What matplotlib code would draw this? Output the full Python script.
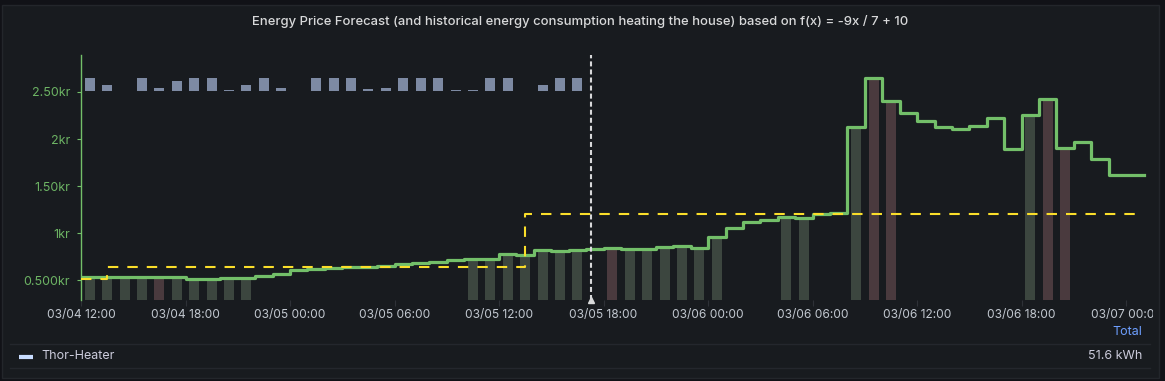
import numpy as np
import pandas as pd
import matplotlib.pyplot as plt
import matplotlib.dates as mdates
from matplotlib.lines import Line2D
from matplotlib.patches import Rectangle

plt.rcParams['font.family'] = ['Inter', 'DejaVu Sans']
plt.rcParams['lines.scale_dashes'] = False

W, H = 1165, 381

# Start of the chart (03/04 12:00), one value per hour after that
start = pd.Timestamp('2023-03-04 12:00')

# Spot price forecast (kr) per hour
price = [0.535, 0.535, 0.535, 0.535, 0.535, 0.535, 0.51, 0.51, 0.52, 0.52,
         0.543, 0.564, 0.606, 0.617, 0.63, 0.635, 0.638, 0.652, 0.667, 0.677,
         0.691, 0.709, 0.72, 0.72, 0.78, 0.766, 0.819, 0.809, 0.819, 0.83,
         0.84, 0.826, 0.826, 0.848, 0.862, 0.837, 0.954, 1.056, 1.113, 1.14,
         1.173, 1.156, 1.199, 1.216, 2.131, 2.646, 2.404, 2.273, 2.191, 2.124,
         2.11, 2.138, 2.22, 1.894, 2.255, 2.422, 1.901, 1.968, 1.787, 1.614,
         1.614]

# Hours where the heater runs, and the ones marked as expensive
heat_hours = [0, 1, 2, 3, 4, 5, 6, 7, 8, 9,
              22, 23, 24, 25, 26, 27, 28,
              30, 31, 32, 33, 34, 35, 36,
              40, 41, 44, 45, 46, 54, 55, 56]
expensive_hours = [4, 30, 45, 46, 55, 56]

# Threshold price from f(x) = -9x / 7 + 10
threshold_hours = [0, 1.5, 25.5, 60.6]
threshold = [0.514, 0.642, 1.205, 1.205]

# Thor-Heater consumption, kWh per hour (history up to now)
consumption = [2.84, 1.23, 0, 2.84, 0.65, 2.08, 2.84, 2.84, 0.29, 1.29,
               2.84, 0.65, 0, 2.84, 2.84, 2.84, 0.43, 0.65, 2.84, 2.84,
               2.84, 0.29, 0.2, 2.84, 2.84, 0, 1.29, 2.84, 2.84]

now_hour = 29.27

y_ticks = [0.5, 1, 1.5, 2, 2.5]
y_labels = ['0.500kr', '1kr', '1.50kr', '2kr', '2.50kr']

base = mdates.date2num(start.to_pydatetime())


def hx(h):
    return base + np.asarray(h, dtype=float) / 24


fig = plt.figure(figsize=(W / 100, H / 100), dpi=100, facecolor='#111217')
fig.add_artist(Rectangle((2 / W, 3 / H), 1157 / W, 373 / H, transform=fig.transFigure,
                         facecolor='#181b1f', edgecolor='#23262b', lw=1, zorder=-5))

ax_bottom, ax_top = 299.5, 55
ax = fig.add_axes([81 / W, (H - ax_bottom) / H, (1150 - 81) / W, (ax_bottom - ax_top) / H])
ax.set_facecolor('none')

# heating bars under the price line
bar_w = 0.574 / 24
colors = ['#4a3a3e' if h in expensive_hours else '#3c463f' for h in heat_hours]
ax.bar(hx(np.array(heat_hours) + 0.5), [price[h] for h in heat_hours], width=bar_w,
       color=colors, zorder=1)

# price line
ax.plot(hx(np.arange(len(price) + 1)), price + [price[-1]], drawstyle='steps-post',
        color='#73bf69', lw=2.3, zorder=3)

# threshold
ax.plot(hx(threshold_hours), threshold, drawstyle='steps-post', color='#fade2a',
        lw=1.5, ls=(0, (7.5, 6.5)), zorder=4)

ylo, yhi = 0.2926, 2.8936
ax.set_ylim(ylo, yhi)
ax.set_xlim(hx(0), hx(61.37))

# now marker
ax.axvline(hx(now_hour), color='#d8d9da', lw=1.5, ls=(0, (3.6, 2.2)), zorder=5)
ax.plot([hx(now_hour)], [ylo], marker='^', color='#d8d9da', ms=5, clip_on=False, zorder=6)

for s in ['top', 'right', 'bottom']:
    ax.spines[s].set_visible(False)
ax.spines['left'].set_color('#73bf69')
ax.spines['left'].set_linewidth(1)

ax.set_yticks(y_ticks)
ax.set_yticklabels(y_labels)
ax.tick_params(axis='y', colors='#73bf69', labelcolor='#6db464', length=3, width=0.8,
               labelsize=9, pad=5)
ax.xaxis.set_major_locator(mdates.HourLocator(byhour=[0, 6, 12, 18]))
ax.xaxis.set_major_formatter(mdates.DateFormatter('%m/%d %H:%M'))
ax.tick_params(axis='x', colors='#2e3137', labelcolor='#c2c8d0', length=4, width=0.8,
               labelsize=8.6, pad=3)

# the last time label is cut at the panel edge
clip = Rectangle((0, 0), 1153 / W, 1, transform=fig.transFigure)
for lbl in ax.get_xticklabels():
    lbl.set_clip_path(clip)

# consumption bars on their own scale at the top
ax2 = ax.twinx()
frac0 = (ax_bottom - 91) / (ax_bottom - ax_top)
frac_max = (ax_bottom - 77.7) / (ax_bottom - ax_top)
k = (frac_max - frac0) / max(consumption)
ax2.set_ylim(-frac0 / k, (1 - frac0) / k)
ax2.bar(hx(np.arange(len(consumption)) + 0.5), consumption, width=bar_w, color='#7d8aa3')
ax2.set_xlim(ax.get_xlim())
ax2.axis('off')

fig.text(580 / W, 1 - 21.7 / H,
         'Energy Price Forecast (and historical energy consumption heating the house) '
         'based on f(x) = -9x / 7 + 10',
         ha='center', va='center', color='#d8d9da', fontsize=9.4, fontweight='medium')

# legend table
for yy in [344.3, 368.3]:
    fig.add_artist(Line2D([10 / W, 1150 / W], [1 - yy / H] * 2, color='#24272d', lw=1))
fig.add_artist(Line2D([19 / W, 33 / W], [1 - 356.5 / H] * 2, color='#c8dcff', lw=3,
                      solid_capstyle='butt'))
fig.text(41 / W, 1 - 355.7 / H, 'Thor-Heater', va='center', color='#ccccdc', fontsize=9)
fig.text(1142 / W, 1 - 331.7 / H, 'Total', ha='right', va='center', color='#6e9fff', fontsize=9)
fig.text(1142 / W, 1 - 355.7 / H, '51.6 kWh', ha='right', va='center', color='#ccccdc',
         fontsize=9)

fig.savefig('out.png', dpi=100, facecolor=fig.get_facecolor())
